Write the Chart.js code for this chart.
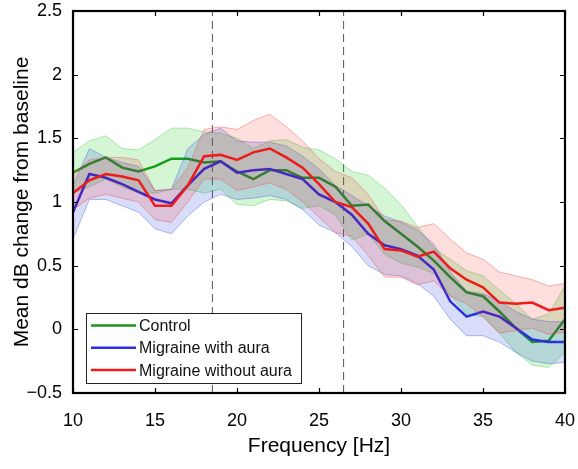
<!DOCTYPE html>
<html>
<head>
<meta charset="utf-8">
<script src="https://cdn.jsdelivr.net/npm/chart.js@4/dist/chart.umd.min.js"></script>
<style>
  html, body { margin: 0; padding: 0; background: #fff; }
  #wrap { width: 578px; height: 469px; }
</style>
</head>
<body>
<div id="wrap"><canvas id="c" width="578" height="469"></canvas></div>
<script>
// ---- data ----
const freqs = [10,11,12,13,14,15,16,17,18,19,20,21,22,23,24,25,26,27,28,29,30,31,32,33,34,35,36,37,38,39,40];

const controlMean  = [1.23,1.30,1.35,1.27,1.24,1.28,1.34,1.34,1.31,1.32,1.24,1.18,1.25,1.25,1.19,1.19,1.12,0.97,0.98,0.85,0.75,0.65,0.54,0.41,0.29,0.26,0.14,0.01,-0.10,-0.09,0.08];
const controlUpper = [1.39,1.48,1.52,1.42,1.41,1.49,1.58,1.58,1.55,1.54,1.50,1.42,1.48,1.49,1.43,1.41,1.34,1.24,1.21,1.11,0.98,0.81,0.64,0.55,0.46,0.42,0.31,0.20,0.08,0.12,0.34];
const controlLower = [1.07,1.12,1.18,1.12,1.07,1.07,1.10,1.10,1.07,1.10,0.98,0.97,1.02,1.01,0.95,0.97,0.90,0.70,0.75,0.59,0.52,0.49,0.44,0.27,0.12,0.10,-0.03,-0.18,-0.28,-0.30,-0.18];

const auraMean  = [0.92,1.22,1.19,1.14,1.08,1.02,0.99,1.13,1.26,1.32,1.23,1.25,1.26,1.22,1.18,1.06,1.00,0.90,0.75,0.66,0.63,0.58,0.47,0.22,0.10,0.14,0.10,0.01,-0.08,-0.10,-0.10];
const auraUpper = [1.13,1.42,1.35,1.31,1.28,1.09,1.10,1.42,1.53,1.58,1.48,1.47,1.47,1.44,1.36,1.26,1.13,1.05,0.97,0.89,0.84,0.78,0.67,0.45,0.30,0.28,0.22,0.14,0.08,0.06,0.06];
const auraLower = [0.71,1.02,1.02,0.97,0.92,0.79,0.75,0.89,1.00,1.06,1.02,1.03,1.05,1.02,0.94,0.82,0.76,0.65,0.50,0.43,0.42,0.36,0.26,0.08,-0.05,-0.05,-0.10,-0.18,-0.25,-0.27,-0.26];

const noAuraMean  = [1.07,1.17,1.22,1.20,1.17,0.97,0.97,1.13,1.36,1.37,1.33,1.39,1.42,1.35,1.27,1.14,1.00,0.96,0.83,0.63,0.62,0.57,0.61,0.48,0.39,0.33,0.21,0.20,0.21,0.15,0.17];
const noAuraUpper = [1.22,1.33,1.35,1.35,1.33,1.09,1.10,1.27,1.57,1.59,1.57,1.64,1.69,1.59,1.48,1.34,1.24,1.19,1.06,0.86,0.85,0.80,0.83,0.71,0.60,0.55,0.45,0.42,0.39,0.34,0.36];
const noAuraLower = [0.94,1.03,1.06,1.03,1.00,0.86,0.84,1.00,1.18,1.18,1.09,1.12,1.15,1.10,1.00,0.88,0.76,0.73,0.58,0.41,0.41,0.35,0.38,0.26,0.20,0.10,-0.03,-0.01,0.01,-0.04,-0.02];

const markerFreqs = [18.5, 26.5];
const seriesNames = ['Control', 'Migraine with aura', 'Migraine without aura'];
const xTicks = [10, 15, 20, 25, 30, 35, 40];
const yTicks = [-0.5, 0, 0.5, 1, 1.5, 2, 2.5];

// ---- styling ----
const GREEN = '#1a961a', BLUE = '#2b2fdc', RED = '#ec1c1c';
const FONT = "'Liberation Sans', Arial, Helvetica, sans-serif";

const pts = arr => freqs.map((f, i) => ({ x: f, y: arr[i] }));

const datasets = [];
function add(ds) { datasets.push(Object.assign({ pointRadius: 0, tension: 0, fill: false }, ds)); return datasets.length - 1; }

// dashed marker lines
markerFreqs.forEach(f => add({
  data: [{ x: f, y: yTicks[0] }, { x: f, y: yTicks[yTicks.length - 1] }],
  borderColor: '#555', borderWidth: 1, borderDash: [8, 5], order: 100
}));

// control
add({ label: seriesNames[0], data: pts(controlMean), borderColor: GREEN, borderWidth: 2.5, order: 90 });
let gl = add({ data: pts(controlLower), borderColor: 'rgba(90,200,90,0.55)', borderWidth: 0.8, order: 81 });
add({ data: pts(controlUpper), borderColor: 'rgba(90,200,90,0.55)', borderWidth: 0.8, order: 80,
      fill: { target: gl }, backgroundColor: 'rgba(0,200,0,0.17)' });

// with aura
let bl = add({ data: pts(auraLower), borderColor: 'rgba(70,90,220,0.5)', borderWidth: 0.8, order: 71 });
add({ data: pts(auraUpper), borderColor: 'rgba(70,90,220,0.5)', borderWidth: 0.8, order: 70,
      fill: { target: bl }, backgroundColor: 'rgba(40,70,220,0.18)' });
add({ label: seriesNames[1], data: pts(auraMean), borderColor: BLUE, borderWidth: 2.5, order: 60 });

// without aura
let rl = add({ data: pts(noAuraLower), borderColor: 'rgba(235,80,80,0.55)', borderWidth: 0.8, order: 51 });
add({ data: pts(noAuraUpper), borderColor: 'rgba(235,80,80,0.55)', borderWidth: 0.8, order: 50,
      fill: { target: rl }, backgroundColor: 'rgba(255,0,0,0.13)' });
add({ label: seriesNames[2], data: pts(noAuraMean), borderColor: RED, borderWidth: 2.5, order: 40 });

const frameAndLegend = {
  id: 'frameAndLegend',
  afterDatasetsDraw(chart) {
    const { ctx, chartArea: a } = chart;
    // legend box
    const bx = a.left + 13, by = a.bottom - 80, bw = 215, bh = 70;
    ctx.save();
    ctx.fillStyle = '#fff';
    ctx.fillRect(bx, by, bw, bh);
    ctx.strokeStyle = '#222';
    ctx.lineWidth = 1;
    ctx.strokeRect(bx + 0.5, by + 0.5, bw, bh);
    const cols = [GREEN, BLUE, RED];
    ctx.font = '16px ' + FONT;
    ctx.textBaseline = 'middle';
    ctx.textAlign = 'left';
    seriesNames.forEach((n, i) => {
      const y = by + 12.5 + i * 22.3;
      ctx.strokeStyle = cols[i];
      ctx.lineWidth = 2.5;
      ctx.beginPath(); ctx.moveTo(bx + 5, y); ctx.lineTo(bx + 50, y); ctx.stroke();
      ctx.fillStyle = '#111';
      ctx.fillText(n, bx + 53, y + 1);
    });
    ctx.restore();
  },
  afterDraw(chart) {
    const { ctx, chartArea: a, scales } = chart;
    ctx.save();
    ctx.strokeStyle = '#000';
    ctx.lineWidth = 1.2;
    const tl = 5;
    ctx.beginPath();
    xTicks.forEach(v => {
      const x = Math.round(scales.x.getPixelForValue(v)) + 0.5;
      ctx.moveTo(x, a.bottom); ctx.lineTo(x, a.bottom - tl);
      ctx.moveTo(x, a.top); ctx.lineTo(x, a.top + tl);
    });
    yTicks.forEach(v => {
      const y = Math.round(scales.y.getPixelForValue(v)) + 0.5;
      ctx.moveTo(a.left, y); ctx.lineTo(a.left + tl, y);
      ctx.moveTo(a.right, y); ctx.lineTo(a.right - tl, y);
    });
    ctx.stroke();
    ctx.lineWidth = 2.2;
    ctx.strokeRect(a.left, a.top, a.right - a.left, a.bottom - a.top);
    ctx.restore();
  }
};

new Chart(document.getElementById('c'), {
  type: 'line',
  data: { datasets },
  options: {
    responsive: false,
    animation: false,
    devicePixelRatio: 1,
    layout: { padding: { top: 11, right: 13, left: 0, bottom: 0 } },
    plugins: { legend: { display: false }, tooltip: { enabled: false }, filler: { propagate: false } },
    scales: {
      x: {
        type: 'linear', min: 10, max: 40,
        afterFit(s) { s.height = 76; s.paddingLeft = 0; s.paddingRight = 0; },
        afterBuildTicks(s) { s.ticks = xTicks.map(v => ({ value: v })); },
        grid: { display: false, drawTicks: false },
        border: { display: false },
        ticks: { padding: 17, color: '#000', font: { family: FONT, size: 18 }, maxRotation: 0 },
        title: { display: true, text: 'Frequency [Hz]', color: '#000', font: { family: FONT, size: 21 }, padding: { top: 0, bottom: 10 } }
      },
      y: {
        type: 'linear', min: -0.5, max: 2.5,
        afterFit(s) { s.width = 73; s.paddingTop = 0; s.paddingBottom = 0; },
        afterBuildTicks(s) { s.ticks = yTicks.map(v => ({ value: v })); },
        grid: { display: false, drawTicks: false },
        border: { display: false },
        ticks: { padding: 11, color: '#000', font: { family: FONT, size: 18 },
                 callback: v => String(v).replace('-', '\u2212') },
        title: { display: true, text: 'Mean dB change from baseline', color: '#000', font: { family: FONT, size: 21 }, padding: { top: 10, bottom: 0 } }
      }
    }
  },
  plugins: [frameAndLegend]
});
</script>
</body>
</html>
